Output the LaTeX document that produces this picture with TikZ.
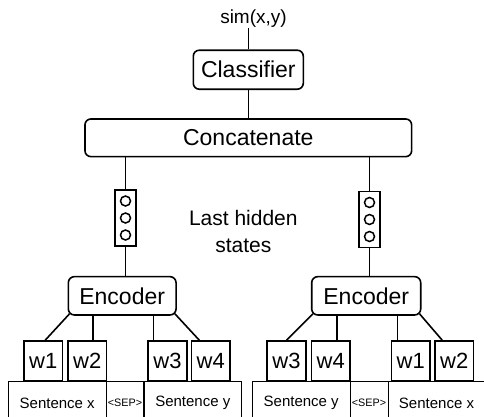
\documentclass[tikz,border=0pt]{standalone}
\usepackage{fontspec}
\setmainfont{Liberation Sans}
\begin{document}
\begin{tikzpicture}[x=1pt,y=-1pt,
  rbox/.style={draw, line width=1.6pt, rounded corners=6pt, inner sep=0pt, fill=white, font=\fontsize{23}{27}\selectfont},
  vbox/.style={draw, line width=1.6pt, inner sep=0pt, minimum width=21pt, minimum height=56pt, fill=white},
  wbox/.style={draw, line width=1.6pt, inner sep=0pt, minimum width=38.5pt, minimum height=40pt, fill=white, font=\fontsize{22}{26}\selectfont},
  sbox/.style={draw, line width=1pt, inner sep=0pt, minimum height=44pt, font=\fontsize{15}{18}\selectfont},
  sepbox/.style={draw, line width=1pt, inner sep=0pt, minimum height=44pt, minimum width=38pt, font=\fontsize{10.8}{13}\selectfont},
  conn/.style={line width=1.6pt},
  dot/.style={line width=1.5pt}
]
\useasboundingbox (0,0) rectangle (484,416);
\clip (0,0) rectangle (484,416);

% sentence boxes
\node[sbox, minimum width=97.7pt] (sxL) at (57.2,403) {Sentence x};
\node[sepbox] (sepL) at (125,403) {<SEP>};
\node[sbox, minimum width=97.7pt] (syL) at (192.8,403) {Sentence y};
\node[sbox, minimum width=97.7pt] (syR) at (301.2,403) {Sentence y};
\node[sepbox] (sepR) at (369,403) {<SEP>};
\node[sbox, minimum width=97pt] (sxR) at (436.5,403) {Sentence x};

% word boxes
\node[wbox] (w1L) at (43.2,361) {w1};
\node[wbox] (w2L) at (87.2,361) {w2};
\node[wbox] (w3L) at (167.5,361) {w3};
\node[wbox] (w4L) at (210.8,361) {w4};
\node[wbox] (w3R) at (286.5,361) {w3};
\node[wbox] (w4R) at (330.8,361) {w4};
\node[wbox] (w1R) at (410.8,361) {w1};
\node[wbox] (w2R) at (454.2,361) {w2};

% encoders
\node[rbox, minimum width=107.7pt, minimum height=38.3pt] (encL) at (122.2,295.8) {Encoder};
\node[rbox, minimum width=109pt, minimum height=38.3pt] (encR) at (366.2,295.8) {Encoder};

% hidden state vectors
\node[vbox] (vecL) at (125.5,218) {};
\node[vbox] (vecR) at (369.5,219.5) {};
\foreach \v in {vecL,vecR}{
  \draw[dot] ([yshift=17pt]\v.center) circle (5pt);
  \draw[dot] (\v.center) circle (5pt);
  \draw[dot] ([yshift=-17pt]\v.center) circle (5pt);
}
\node[align=center, font=\fontsize{21}{27}\selectfont, inner sep=0pt] (last) at (243.3,231) {Last hidden\\states};

% concatenate, classifier, output
\node[rbox, minimum width=326.7pt, minimum height=37.7pt] (cat) at (248.3,137.8) {Concatenate};
\node[rbox, minimum width=110pt, minimum height=39pt] (cls) at (248.3,69.7) {Classifier};
\node[font=\fontsize{19}{22}\selectfont, inner sep=0pt] (sim) at (253.5,19) {sim(x,y)};
\coordinate (simend) at (248.3,28);

% connectors
\draw[conn] (cls.north) -- (simend);
\draw[conn] (cat.north) -- (cls.south);
\draw[conn] (vecL.north) -- (vecL.north |- cat.south);
\draw[conn] (vecR.north) -- (vecR.north |- cat.south);
\draw[conn] (vecL.south) -- (vecL.south |- encL.north);
\draw[conn] (vecR.south) -- (vecR.south |- encR.north);

\draw[conn] ([xshift=2pt]w1L.north) -- ([xshift=2pt,yshift=2pt]encL.south west);
\draw[conn] ([xshift=6pt]w2L.north) -- ([xshift=6pt]w2L.north |- encL.south);
\draw[conn] ([xshift=-14pt]w3L.north) -- ([xshift=-14pt]w3L.north |- encL.south);
\draw[conn] ([xshift=-11.5pt]w4L.north) -- ([xshift=-2pt,yshift=2pt]encL.south east);

\draw[conn] (w3R.north) -- ([xshift=2pt,yshift=2pt]encR.south west);
\draw[conn] ([xshift=6pt]w4R.north) -- ([xshift=6pt]w4R.north |- encR.south);
\draw[conn] ([xshift=-13.5pt]w1R.north) -- ([xshift=-13.5pt]w1R.north |- encR.south);
\draw[conn] ([xshift=-12pt]w2R.north) -- ([xshift=-2pt,yshift=2pt]encR.south east);
\end{tikzpicture}
\end{document}
